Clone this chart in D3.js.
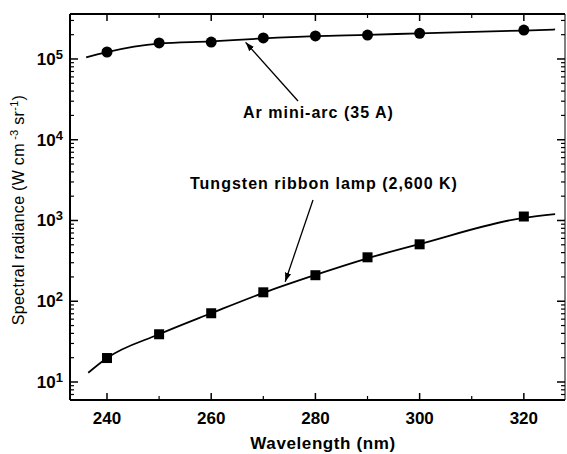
<!DOCTYPE html>
<html>
<head>
<meta charset="utf-8">
<script src="https://cdn.jsdelivr.net/npm/d3@7"></script>
<style>
  body { margin: 0; background: #fff; }
  text { font-family: "Liberation Sans", Arial, sans-serif; fill: #000; }
</style>
</head>
<body>
<svg id="chart" width="567" height="454"></svg>
<script>
// wavelengths of the markers (nm)
var arWl = [240, 250, 260, 270, 280, 290, 300, 320];
var arVal = [1.22e5, 1.58e5, 1.62e5, 1.82e5, 1.93e5, 1.98e5, 2.08e5, 2.28e5];
var wWl = [240, 250, 260, 270, 280, 290, 300, 320];
var wVal = [19.8, 39, 71, 129, 210, 350, 507, 1120];

// fitted curves (start and end)
var arCurveWl = [236, 240, 250, 260, 270, 280, 290, 300, 320, 326];
var arCurveVal = [1.05e5, 1.22e5, 1.55e5, 1.65e5, 1.8e5, 1.92e5, 1.99e5, 2.08e5, 2.25e5, 2.32e5];
var wCurveWl = [236.4, 240, 250, 260, 270, 280, 290, 300, 320, 326];
var wCurveVal = [13, 19.8, 39, 71, 127, 212, 340, 510, 1080, 1200];

var xTicks = [240, 260, 280, 300, 320];
var xMinor = [250, 270, 290, 310];
var yExp = [1, 2, 3, 4, 5];

var svg = d3.select("#chart");
var pL = 70, pR = 565, pT = 14, pB = 400;

var x = d3.scaleLinear().domain([232.9, 327.9]).range([pL, pR]);
var y = d3.scaleLog().domain([Math.pow(10, 0.777), Math.pow(10, 5.557)]).range([pB, pT]);

// frame
svg.append("line").attr("x1", pL).attr("x2", pL).attr("y1", pT).attr("y2", pB)
    .attr("stroke", "black").attr("stroke-width", 2);
svg.append("line").attr("x1", pL).attr("x2", pR).attr("y1", pB).attr("y2", pB)
    .attr("stroke", "black").attr("stroke-width", 2);
svg.append("line").attr("x1", pL).attr("x2", pR).attr("y1", pT).attr("y2", pT)
    .attr("stroke", "black").attr("stroke-width", 2);
svg.append("line").attr("x1", pR).attr("x2", pR).attr("y1", pT).attr("y2", pB)
    .attr("stroke", "black").attr("stroke-width", 1);

// x ticks, bottom and top, pointing inward
var g = svg.append("g");
xTicks.forEach(function (t) {
    g.append("line").attr("x1", x(t)).attr("x2", x(t)).attr("y1", pB).attr("y2", pB - 7)
        .attr("stroke", "black").attr("stroke-width", 1.5);
    g.append("line").attr("x1", x(t)).attr("x2", x(t)).attr("y1", pT).attr("y2", pT + 7)
        .attr("stroke", "black").attr("stroke-width", 1.5);
    g.append("text").attr("x", x(t)).attr("y", 424).attr("text-anchor", "middle")
        .attr("font-size", 17).attr("font-weight", "bold").text(t);
});
xMinor.forEach(function (t) {
    g.append("line").attr("x1", x(t)).attr("x2", x(t)).attr("y1", pB).attr("y2", pB - 4)
        .attr("stroke", "black").attr("stroke-width", 1.2);
    g.append("line").attr("x1", x(t)).attr("x2", x(t)).attr("y1", pT).attr("y2", pT + 4)
        .attr("stroke", "black").attr("stroke-width", 1.2);
});

// y ticks, left and right
var yMinor = [];
for (var e = 0; e <= 5; e++) {
    for (var m = 2; m <= 9; m++) {
        var v = m * Math.pow(10, e);
        if (v >= y.domain()[0] && v <= y.domain()[1]) yMinor.push(v);
    }
}
yMinor.forEach(function (v) {
    g.append("line").attr("x1", pL).attr("x2", pL + 4).attr("y1", y(v)).attr("y2", y(v))
        .attr("stroke", "black").attr("stroke-width", 1.2);
    g.append("line").attr("x1", pR).attr("x2", pR - 4).attr("y1", y(v)).attr("y2", y(v))
        .attr("stroke", "black").attr("stroke-width", 1.2);
});
yExp.forEach(function (p) {
    var v = Math.pow(10, p);
    g.append("line").attr("x1", pL).attr("x2", pL + 8).attr("y1", y(v)).attr("y2", y(v))
        .attr("stroke", "black").attr("stroke-width", 1.5);
    g.append("line").attr("x1", pR).attr("x2", pR - 8).attr("y1", y(v)).attr("y2", y(v))
        .attr("stroke", "black").attr("stroke-width", 1.5);
    var t = g.append("text").attr("x", 63).attr("y", y(v) + 6).attr("text-anchor", "end")
        .attr("font-size", 17).attr("font-weight", "bold");
    t.append("tspan").text("10");
    t.append("tspan").attr("dy", -6).attr("font-size", 13).text(p);
});

// curves
var line = d3.line().x(function (d) { return x(d[0]); }).y(function (d) { return y(d[1]); })
    .curve(d3.curveMonotoneX);
svg.append("path").datum(d3.zip(arCurveWl, arCurveVal)).attr("d", line)
    .attr("fill", "none").attr("stroke", "black").attr("stroke-width", 1.8);
svg.append("path").datum(d3.zip(wCurveWl, wCurveVal)).attr("d", line)
    .attr("fill", "none").attr("stroke", "black").attr("stroke-width", 1.8);

// markers
svg.selectAll(".ar").data(d3.zip(arWl, arVal)).enter().append("circle")
    .attr("cx", function (d) { return x(d[0]); })
    .attr("cy", function (d) { return y(d[1]); })
    .attr("r", 5.5).attr("fill", "black");
svg.selectAll(".w").data(d3.zip(wWl, wVal)).enter().append("rect")
    .attr("x", function (d) { return x(d[0]) - 5; })
    .attr("y", function (d) { return y(d[1]) - 5; })
    .attr("width", 10).attr("height", 10).attr("fill", "black");

// annotations
var defs = svg.append("defs");
defs.append("marker").attr("id", "arr").attr("viewBox", "0 0 10 10").attr("refX", 10).attr("refY", 5)
    .attr("markerWidth", 7).attr("markerHeight", 7).attr("orient", "auto")
    .append("path").attr("d", "M0,1.5 L10,5 L0,8.5 Z").attr("fill", "black");

var arTip = [266.6, 1.7e5];
svg.append("line").attr("x1", 298).attr("y1", 101).attr("x2", x(arTip[0])).attr("y2", y(arTip[1]) + 2)
    .attr("stroke", "black").attr("stroke-width", 1.3).attr("marker-end", "url(#arr)");
svg.append("text").attr("x", 243).attr("y", 118).attr("font-size", 16).attr("font-weight", "bold")
    .attr("letter-spacing", 1).text("Ar mini-arc (35 A)");

var wTip = [274.2, 165];
svg.append("line").attr("x1", 313).attr("y1", 200).attr("x2", x(wTip[0])).attr("y2", y(wTip[1]) - 2)
    .attr("stroke", "black").attr("stroke-width", 1.3).attr("marker-end", "url(#arr)");
svg.append("text").attr("x", 190).attr("y", 189).attr("font-size", 16).attr("font-weight", "bold")
    .attr("letter-spacing", 1).text("Tungsten ribbon lamp (2,600 K)");

// axis titles
svg.append("text").attr("x", 323).attr("y", 449).attr("text-anchor", "middle")
    .attr("font-size", 17).attr("font-weight", "bold").attr("letter-spacing", 0.6).text("Wavelength (nm)");
var yl = svg.append("text").attr("transform", "translate(24,210) rotate(-90)")
    .attr("text-anchor", "middle").attr("font-size", 16).attr("fill", "black").attr("letter-spacing", 0.3);
yl.append("tspan").text("Spectral radiance (W cm");
yl.append("tspan").attr("dy", -6).attr("font-size", 11).text(" -3");
yl.append("tspan").attr("dy", 6).text(" sr");
yl.append("tspan").attr("dy", -6).attr("font-size", 11).text("-1");
yl.append("tspan").attr("dy", 6).text(")");
</script>
</body>
</html>
